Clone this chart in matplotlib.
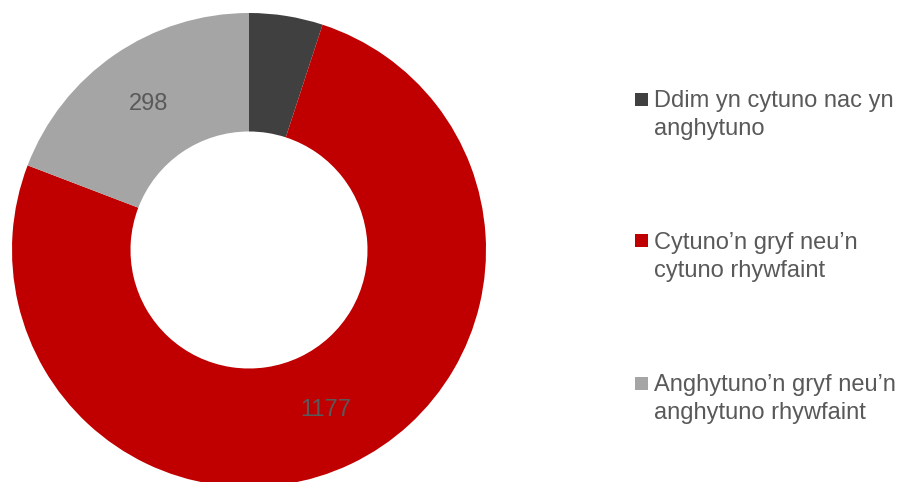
import numpy as np
import matplotlib.pyplot as plt
from matplotlib.patches import Rectangle

plt.rcParams['font.family'] = ['Liberation Sans', 'DejaVu Sans']

categories = ["Ddim yn cytuno nac yn\nanghytuno",
              "Cytuno\u2019n gryf neu\u2019n\ncytuno rhywfaint",
              "Anghytuno\u2019n gryf neu\u2019n\nanghytuno rhywfaint"]
values = [78, 1177, 298]
show_label = [False, True, True]
colors = ['#404040', '#C00000', '#A5A5A5']
text_color = '#595959'

W, H = 900, 482
fig = plt.figure(figsize=(W / 100, H / 100), dpi=100)

# pie centre (249, 250) px, radius 237 px
cx, cy, r = 249, 250, 237
ax = fig.add_axes([(cx - r) / W, (H - cy - r) / H, 2 * r / W, 2 * r / H])
hole = 0.5
wedges, _ = ax.pie(values, colors=colors, startangle=90, counterclock=False,
                   radius=1, wedgeprops=dict(width=1 - hole, edgecolor='none'))
ax.set_xlim(-1, 1)
ax.set_ylim(-1, 1)
ax.set_aspect('equal')
ax.axis('off')

mid_r = (1 + hole) / 2
for w, v, show in zip(wedges, values, show_label):
    if not show:
        continue
    ang = np.deg2rad((w.theta1 + w.theta2) / 2)
    ax.text(mid_r * np.cos(ang), mid_r * np.sin(ang), str(v),
            ha='center', va='center', fontsize=17, color=text_color)

# legend drawn by hand
for i, (lab, c) in enumerate(zip(categories, colors)):
    yc = 99 + i * 142
    fig.patches.append(Rectangle((635 / W, 1 - (yc + 6.5) / H), 13 / W, 13 / H,
                                 transform=fig.transFigure, facecolor=c,
                                 edgecolor='none'))
    fig.text(654 / W, 1 - (yc - 9) / H, lab, ha='left', va='top',
             fontsize=17, color=text_color, linespacing=1.35)

fig.savefig('out.png', dpi=100)
